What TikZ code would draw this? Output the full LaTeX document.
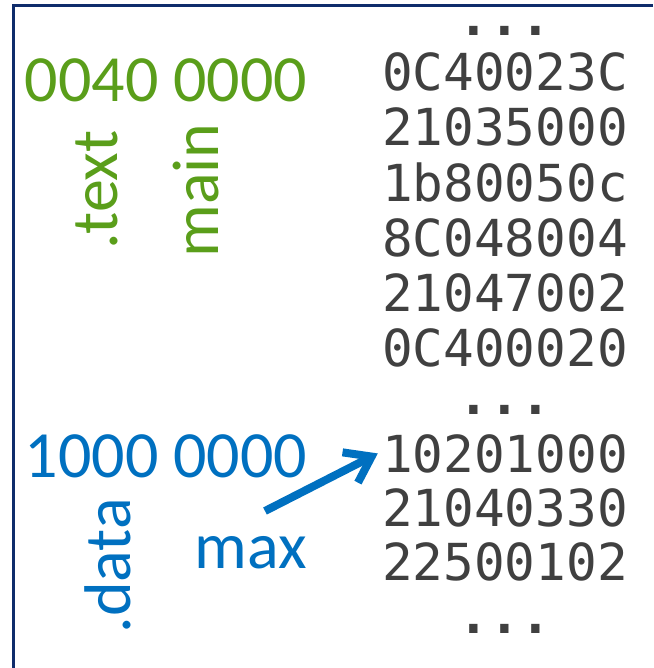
\documentclass[tikz,border=0pt]{standalone}
\usepackage{fontspec}
\setmainfont{Carlito}
\setmonofont{DejaVu Sans Mono}
\usetikzlibrary{arrows.meta, positioning}
\definecolor{SegGreen}{HTML}{5A9E1A}
\definecolor{SegBlue}{HTML}{0070C0}
\definecolor{WordGray}{HTML}{404040}
\definecolor{FrameNavy}{HTML}{0F2C6B}

\begin{document}
\begin{tikzpicture}[
  x=0.5pt, y=-0.5pt,
  addr/.style={font=\fontsize{33}{33}\selectfont, inner sep=0pt, anchor=base},
  seg/.style={addr, rotate=90, anchor=base west},
  word/.style={font=\ttfamily\fontsize{25.5}{25.5}\selectfont, text=WordGray, inner sep=0pt, anchor=base},
  gap/.style={word, font=\ttfamily\bfseries\fontsize{25.5}{25.5}\selectfont},
  frame/.style={draw=FrameNavy, line width=1.5pt},
  ptr/.style={-{Straight Barb[length=12pt, width=17pt]}, line width=4pt, color=SegBlue}
]
\useasboundingbox (0,0) rectangle (653,668);

% memory frame
\draw[frame] (653,6) -- (13,6) -- (13,668);

% text segment
\node[addr, text=SegGreen] (textaddr) at (166,102) {0040 0000};
\node[seg, text=SegGreen] (textseg) at (117,250) {.text};
\node[seg, text=SegGreen] (mainlbl) at (218,258) {main};

\node[gap] (tdots) at (505,36) {...};
\foreach \w [count=\i] in {0C40023C, 21035000, 1b80050c, 8C048004, 21047002, 0C400020}
  \node[word] (t\i) at (505,{36+55*\i}) {\w};

% data segment
\node[addr, text=SegBlue] (dataaddr) at (166,477) {1000 0000};
\node[seg, text=SegBlue] (dataseg) at (130,634) {.data};
\node[addr, text=SegBlue] (maxlbl) at (251,568) {max};

\node[gap] (ddots) at (505,414) {...};
\foreach \w [count=\i] in {10201000, 21040330, 22500102}
  \node[word] (d\i) at (505,{418+54*\i}) {\w};
\node[gap] (edots) at (505,633) {...};

\coordinate (maxptr) at (265,511);
\draw[ptr] (maxptr) -- ([xshift=-2pt]d1.west);
\end{tikzpicture}
\end{document}
